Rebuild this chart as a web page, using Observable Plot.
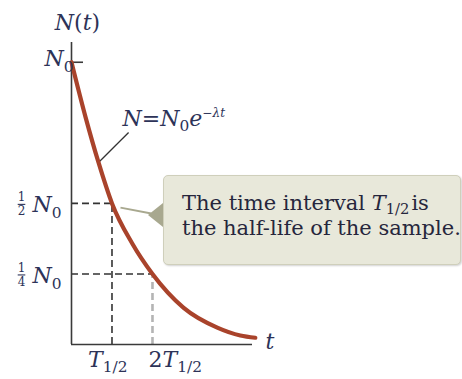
<!DOCTYPE html>
<html>
<head>
<meta charset="utf-8">
<script src="https://cdn.jsdelivr.net/npm/d3@7"></script>
<script src="https://cdn.jsdelivr.net/npm/@observablehq/plot@0.6"></script>
<style>
  html, body { margin: 0; padding: 0; background: #ffffff; }
  #wrap { position: relative; width: 462px; height: 379px; overflow: hidden; }
  #wrap svg { position: absolute; left: 0; top: 0; }
  .callout {
    position: absolute; left: 163px; top: 175px; width: 298px; height: 90px;
    box-sizing: border-box;
    background: #e8e8da; border: 1.5px solid #cfcfbb; border-radius: 5px;
    box-shadow: 1px 1px 2px rgba(0,0,0,0.18);
    font-family: "DejaVu Serif", serif; font-size: 21px; line-height: 25px;
    color: #26263c; padding: 15px 0 0 18px; white-space: nowrap;
  }
  .callout::before {
    content: ""; position: absolute; left: -16px; top: 27px;
    border-style: solid; border-width: 12.5px 15px 12.5px 0;
    border-color: transparent #a8a88f transparent transparent;
  }
  .callout i { font-style: italic; }
  .callout sub { font-size: 0.7em; vertical-align: -0.28em; line-height: 0; font-style: normal; margin-right: 2px; }
</style>
</head>
<body>
<div id="wrap"></div>
<script>
// ---- data (t in units of T1/2, N in units of N0) ----
const curveT = [0, 0.35, 0.667, 1, 1.5, 2, 2.77, 3.6, 4.17, 4.54];
const curveN = [1, 0.804, 0.645, 0.5, 0.358, 0.25, 0.13, 0.06, 0.032, 0.024];
const xExtent = [0, 4.47];
const yExtent = [0, 1.07];
const guideT = [1, 2];          // T1/2 and 2T1/2
const guideN = [0.5, 0.25];     // N0/2 and N0/4
const xTickLabels = ["T_{1/2}", "2T_{1/2}"];
const yTopLabel = "N_{0}";
const yFracNum = ["1", "1"];
const yFracDen = ["2", "4"];
const yAxisTitle = "N(t)";
const xAxisTitle = "t";
const eqLabel = "N=N_{0}e^{−λt}";
const eqLeaderT = [0.667, 1.41];
const eqLeaderN = [0.645, 0.751];
const calloutLeaderT = [1.21, 1.97];
const calloutLeaderN = [0.485, 0.464];

const curve = curveT.map((t, i) => ({t, n: curveN[i]}));
const guides = guideT.map((t, i) => ({t, n: guideN[i], num: yFracNum[i], den: yFracDen[i]}));

const ink = "#2d3358";
const axisInk = "#3a3a3a";
const font = "DejaVu Serif";
const fs = 22;

// a short horizontal stroke used as the fraction bar
const fractionBar = {
  draw(ctx, size) { const r = Math.sqrt(size / Math.PI); ctx.moveTo(-r, 0); ctx.lineTo(r, 0); }
};

const chart = Plot.plot({
  width: 462, height: 379,
  marginLeft: 71, marginRight: 210, marginTop: 42, marginBottom: 35,
  x: {domain: xExtent, axis: null},
  y: {domain: yExtent, axis: null},
  style: {background: "transparent", fontFamily: font, overflow: "visible"},
  marks: [
    // dashed guides
    Plot.ruleY(guides, {y: "n", x1: 0, x2: "t", stroke: "#333", strokeWidth: 1.6, strokeDasharray: "7,4"}),
    Plot.ruleX(guides.filter((d, i) => i === 0), {x: "t", y1: 0, y2: "n", stroke: "#333", strokeWidth: 1.6, strokeDasharray: "7,4"}),
    Plot.ruleX(guides.filter((d, i) => i === 1), {x: "t", y1: 0, y2: "n", stroke: "#b4b4b4", strokeWidth: 2.6, strokeDasharray: "7,4"}),
    // axes
    Plot.ruleX([0], {stroke: axisInk, strokeWidth: 1.6}),
    Plot.ruleY([0], {stroke: axisInk, strokeWidth: 1.6}),
    Plot.ruleY([1], {stroke: axisInk, strokeWidth: 1.6, insetRight: 169}),
    // leader lines
    Plot.link([0], {x1: () => eqLeaderT[0], x2: () => eqLeaderT[1], y1: () => eqLeaderN[0], y2: () => eqLeaderN[1], stroke: "#333", strokeWidth: 1.3}),
    Plot.link([0], {x1: () => calloutLeaderT[0], x2: () => calloutLeaderT[1], y1: () => calloutLeaderN[0], y2: () => calloutLeaderN[1], stroke: "#a8a88f", strokeWidth: 2}),
    // decay curve
    Plot.line(curve, {x: "t", y: "n", curve: "monotone-x", stroke: "#a9432b", strokeWidth: 4.2, strokeLinecap: "round"}),
    // labels
    Plot.text([yAxisTitle], {x: 0, y: yExtent[1], text: d => d, dx: 6, dy: -13, lineAnchor: "bottom", textAnchor: "middle", fontSize: fs, fill: ink}),
    Plot.text([xAxisTitle], {x: xExtent[1], y: 0, text: d => d, dx: 13, dy: 4, lineAnchor: "bottom", textAnchor: "start", fontSize: fs, fill: ink}),
    Plot.text([yTopLabel], {x: 0, y: 1, text: d => d, dx: 2, dy: 4, lineAnchor: "bottom", textAnchor: "end", fontSize: fs, fill: ink}),
    Plot.text(guides, {x: 0, y: "n", text: () => yTopLabel, dx: -10, dy: 9, lineAnchor: "bottom", textAnchor: "end", fontSize: fs, fill: ink}),
    Plot.text(guides, {x: 0, y: "n", text: "num", dx: -50, dy: -2, lineAnchor: "bottom", textAnchor: "middle", fontSize: 12, fill: ink}),
    Plot.dot(guides, {x: 0, y: "n", dx: -50, dy: 1, symbol: fractionBar, r: 3.8, stroke: ink, strokeWidth: 1.1}),
    Plot.text(guides, {x: 0, y: "n", text: "den", dx: -50, dy: 12, lineAnchor: "bottom", textAnchor: "middle", fontSize: 12, fill: ink}),
    Plot.text([xTickLabels[0]], {x: () => guideT[0], y: 0, text: d => d, dx: -24, dy: 22, lineAnchor: "bottom", textAnchor: "start", fontSize: fs, fill: ink}),
    Plot.text([xTickLabels[1]], {x: () => guideT[1], y: 0, text: d => d, dx: -4, dy: 22, lineAnchor: "bottom", textAnchor: "start", fontSize: fs, fill: ink}),
    Plot.text([eqLabel], {x: () => eqLeaderT[1], y: () => eqLeaderN[1], text: d => d, dx: -6, dy: -7, lineAnchor: "bottom", textAnchor: "start", fontSize: fs, fill: ink})
  ]
});

const wrap = document.getElementById("wrap");
wrap.appendChild(chart);

// rich text: italic letters, upright digits, _{sub} and ^{sup}
d3.select(chart).selectAll("text").each(function () {
  const s = this.textContent;
  const size = parseFloat(getComputedStyle(this).fontSize) || fs;
  const chars = [];
  let i = 0;
  while (i < s.length) {
    if ((s[i] === "_" || s[i] === "^") && s[i + 1] === "{") {
      const j = s.indexOf("}", i);
      const lvl = s[i] === "_" ? "sub" : "sup";
      for (const ch of s.slice(i + 2, j)) chars.push({ch, lvl});
      i = j + 1;
    } else { chars.push({ch: s[i], lvl: "base"}); i++; }
  }
  const runs = [];
  for (const c of chars) {
    const it = /[A-Za-zλ]/.test(c.ch);
    const last = runs[runs.length - 1];
    if (last && last.lvl === c.lvl && last.it === it) last.txt += c.ch;
    else runs.push({txt: c.ch, lvl: c.lvl, it});
  }
  this.textContent = "";
  let prev = 0;
  for (const r of runs) {
    const shift = r.lvl === "sub" ? 0.27 * size : r.lvl === "sup" ? -0.4 * size : 0;
    const scale = r.lvl === "sub" ? 0.7 : r.lvl === "sup" ? 0.55 : 1;
    const t = document.createElementNS("http://www.w3.org/2000/svg", "tspan");
    if (shift !== prev) t.setAttribute("dy", shift - prev);
    t.setAttribute("font-size", size * scale);
    t.setAttribute("font-style", r.it ? "italic" : "normal");
    t.textContent = r.txt;
    this.appendChild(t);
    prev = shift;
  }
});

const box = document.createElement("div");
box.className = "callout";
box.innerHTML = "The time interval <i>T</i><sub>1/2</sub>is<br>the half-life of the sample.";
wrap.appendChild(box);
</script>
</body>
</html>
